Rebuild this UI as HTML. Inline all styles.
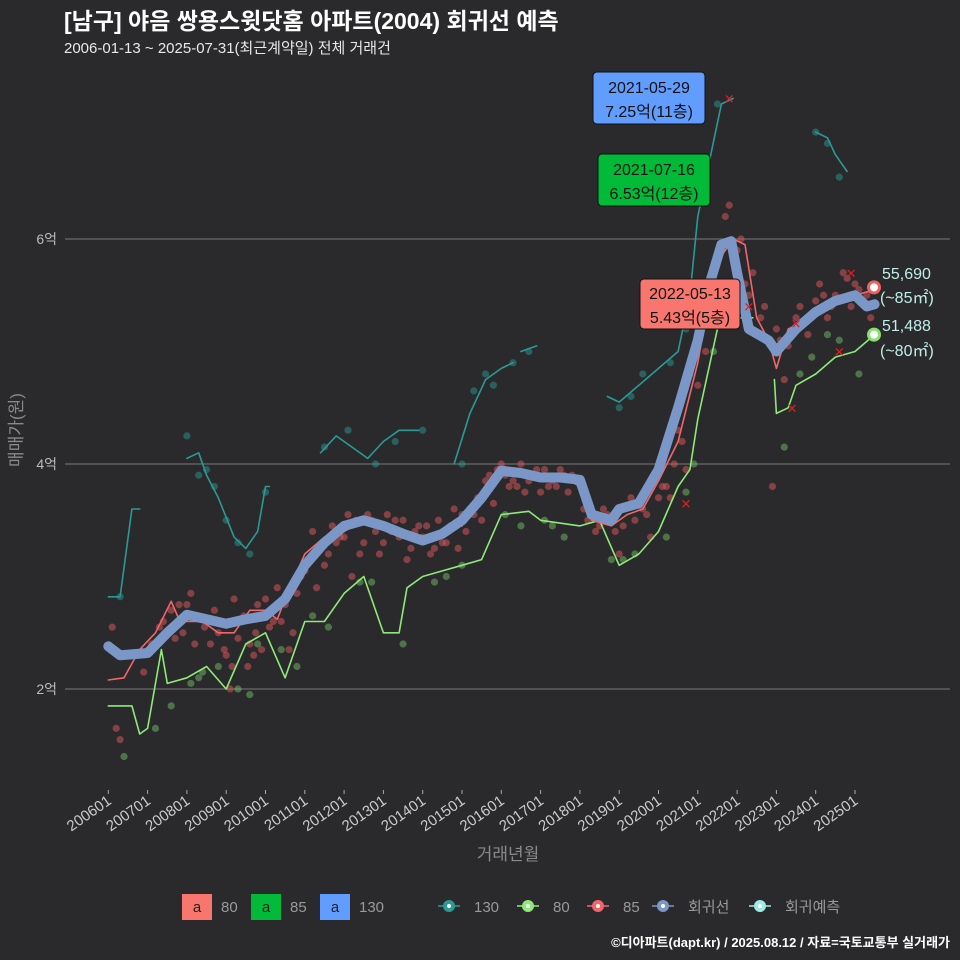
<!DOCTYPE html>
<html><head><meta charset="utf-8"><style>
body{margin:0;background:#2a2a2c;}
svg{display:block;font-family:"Liberation Sans","Noto Sans CJK KR",sans-serif;}
</style></head><body>
<svg id="c" width="960" height="960" viewBox="0 0 960 960">
<rect x="0" y="0" width="960" height="960" fill="#2a2a2c"/>
<text x="64" y="29" font-size="23" font-weight="bold" fill="#ffffff">[남구] 야음 쌍용스윗닷홈 아파트(2004) 회귀선 예측</text>
<text x="64" y="53" font-size="15" fill="#e8e8e8">2006-01-13 ~ 2025-07-31(최근계약일) 전체 거래건</text>
<g id="grid"></g>
<g id="marks"></g>
<g id="axes"></g>
<text x="22" y="430" font-size="17" fill="#8a8a8a" transform="rotate(-90 22 430)" text-anchor="middle">매매가(원)</text>
<text x="508" y="860" font-size="17" fill="#8a8a8a" text-anchor="middle">거래년월</text>
<g>
<rect x="182" y="894" width="30" height="26" fill="#f8766d"/><text x="197" y="912" font-size="15" text-anchor="middle" fill="#222">a</text><text x="221" y="912" font-size="15" fill="#999">80</text>
<rect x="251" y="894" width="30" height="26" fill="#00ba38"/><text x="266" y="912" font-size="15" text-anchor="middle" fill="#222">a</text><text x="290" y="912" font-size="15" fill="#999">85</text>
<rect x="320" y="894" width="30" height="26" fill="#619cff"/><text x="335" y="912" font-size="15" text-anchor="middle" fill="#222">a</text><text x="359" y="912" font-size="15" fill="#999">130</text>
<g id="leg2"></g>
</g>
<text x="950" y="947" font-size="13" font-weight="bold" fill="#ffffff" text-anchor="end">©디아파트(dapt.kr) / 2025.08.12 / 자료=국토교통부 실거래가</text>
<g><rect x="593" y="72" width="112" height="52" rx="4" fill="#619cff" stroke="#111"/><text x="649" y="93" font-size="16" text-anchor="middle" fill="#111">2021-05-29</text><text x="649" y="117" font-size="16" text-anchor="middle" fill="#111">7.25억(11층)</text></g>
<g><rect x="598" y="154" width="112" height="52" rx="4" fill="#00ba38" stroke="#111"/><text x="654" y="175" font-size="16" text-anchor="middle" fill="#111">2021-07-16</text><text x="654" y="199" font-size="16" text-anchor="middle" fill="#111">6.53억(12층)</text></g>
<g><rect x="640" y="279" width="100" height="50" rx="4" fill="#f8766d" stroke="#111"/><text x="690" y="299" font-size="16" text-anchor="middle" fill="#111">2022-05-13</text><text x="690" y="323" font-size="16" text-anchor="middle" fill="#111">5.43억(5층)</text></g>
<g>
<text x="882" y="279" font-size="16" fill="#bfeee8">55,690</text><text x="880" y="303" font-size="16" fill="#bfeee8">(~85㎡)</text>
<text x="882" y="331" font-size="16" fill="#bfeee8">51,488</text><text x="880" y="356" font-size="16" fill="#bfeee8">(~80㎡)</text>
</g>
</svg>
<script>
const yTicks=[2,4,6];
const xTickLabels=['200601','200701','200801','200901','201001','201101','201201','201301','201401','201501','201601','201701','201801','201901','202001','202101','202201','202301','202401','202501'];
const regT=[2006.0,2006.3,2007.0,2007.5,2008.0,2008.5,2009.0,2009.5,2010.0,2010.5,2011.0,2011.5,2012.0,2012.5,2013.0,2013.5,2014.0,2014.5,2015.0,2015.5,2016.0,2016.5,2017.0,2017.5,2018.0,2018.3,2018.8,2019.0,2019.5,2020.0,2020.5,2021.0,2021.3,2021.6,2021.85,2022.0,2022.3,2022.8,2023.0,2023.5,2024.0,2024.5,2025.0,2025.3,2025.5];
const regV=[2.38,2.3,2.32,2.5,2.66,2.62,2.58,2.62,2.65,2.8,3.1,3.3,3.45,3.5,3.45,3.38,3.32,3.38,3.5,3.7,3.94,3.92,3.88,3.88,3.86,3.55,3.5,3.6,3.65,3.95,4.5,5.1,5.6,5.95,5.98,5.7,5.2,5.1,5.0,5.2,5.35,5.45,5.5,5.4,5.42];
const s85T=[2006.0,2006.4,2006.8,2007.2,2007.6,2007.8,2008.0,2008.4,2008.8,2009.2,2009.6,2010.0,2010.3,2010.5,2011.0,2011.5,2012.0,2012.5,2013.0,2013.5,2014.0,2014.5,2015.0,2015.5,2016.0,2016.5,2017.0,2017.5,2018.0,2018.3,2018.8,2019.2,2019.6,2020.0,2020.5,2021.0,2021.3,2021.6,2021.9,2022.2,2022.5,2022.8,2023.0,2023.3,2023.6,2024.0,2024.5,2025.0,2025.5];
const s85V=[2.08,2.1,2.35,2.5,2.78,2.62,2.6,2.6,2.5,2.5,2.7,2.7,2.62,2.8,3.2,3.35,3.4,3.5,3.45,3.35,3.3,3.4,3.45,3.7,3.98,3.95,3.85,3.9,3.8,3.5,3.45,3.55,3.6,3.85,4.2,4.9,5.5,5.85,6.0,5.95,5.3,5.1,4.85,5.2,5.25,5.35,5.45,5.5,5.55];
const s80T=[2006.0,2006.6,2006.8,2007.0,2007.35,2007.5,2008.0,2008.5,2009.0,2009.5,2010.0,2010.5,2011.0,2011.5,2012.0,2012.5,2013.0,2013.4,2013.6,2014.0,2014.5,2015.0,2015.5,2016.0,2016.7,2017.0,2018.0,2018.5,2019.0,2019.5,2020.0,2020.5,2020.8,2021.0,2021.5,2022.0,2022.4];
const s80V=[1.85,1.85,1.6,1.65,2.35,2.05,2.1,2.2,2.0,2.4,2.5,2.1,2.6,2.6,2.85,3.0,2.5,2.5,2.9,3.0,3.05,3.1,3.15,3.55,3.58,3.5,3.45,3.5,3.1,3.2,3.4,3.8,3.95,4.4,5.2,5.3,5.3];
const s80bT=[2022.95,2023.0,2023.3,2023.5,2024.0,2024.5,2025.0,2025.5];
const s80bV=[4.75,4.45,4.5,4.7,4.8,4.95,5.0,5.15];
const s130aT=[2006.0,2006.3,2006.6,2006.8];const s130aV=[2.82,2.82,3.6,3.6];
const s130bT=[2008.0,2008.3,2008.5,2008.8,2009.2,2009.5,2009.8,2010.0,2010.1];const s130bV=[4.05,4.1,3.9,3.7,3.35,3.25,3.4,3.8,3.8];
const s130cT=[2011.4,2011.8,2012.2,2012.6,2013.0,2013.4,2013.9];const s130cV=[4.1,4.25,4.15,4.05,4.2,4.3,4.3];
const s130dT=[2014.8,2015.2,2015.6,2016.0,2016.3];const s130dV=[4.0,4.45,4.75,4.85,4.9];
const s130eT=[2016.5,2016.9];const s130eV=[5.0,5.05];
const s130fT=[2018.7,2019.0,2019.5,2020.0,2020.5,2020.8,2021.0,2021.3,2021.6,2021.9];const s130fV=[4.6,4.55,4.7,4.85,5.0,5.5,6.2,6.7,7.2,7.25];
const s130gT=[2024.0,2024.3,2024.5,2024.8];const s130gV=[6.95,6.9,6.75,6.6];
const ptsRedT=[2006.1,2006.3,2006.5,2006.9,2007.1,2007.3,2007.6,2007.9,2008.1,2008.3,2008.6,2008.8,2009.0,2009.2,2009.4,2009.6,2009.8,2010.1,2010.3,2010.6,2010.9,2011.2,2011.5,2011.8,2012.1,2012.4,2012.7,2013.0,2013.3,2013.6,2013.9,2014.2,2014.5,2014.8,2015.1,2015.4,2015.7,2016.0,2016.3,2016.6,2016.9,2017.2,2017.5,2017.8,2018.1,2018.4,2018.7,2019.0,2019.3,2019.6,2019.9,2020.2,2020.5,2020.8,2021.1,2021.4,2021.7,2022.0,2022.3,2022.6,2022.9,2023.2,2023.5,2023.8,2024.1,2024.4,2024.7,2025.0,2025.3,2008.2,2009.1,2009.7,2010.4,2012.2,2014.0,2015.3,2016.2,2018.9,2020.3,2021.2,2022.4,2023.1,2024.2,2006.2,2007.8,
2007.4,2007.7,2008.0,2008.45,2008.7,2008.95,2009.05,2009.15,2009.3,2009.45,2009.55,2009.75,2009.9,2010.0,2010.2,2010.5,2010.7,2010.8,2011.0,2011.3,2011.4,2011.6,2011.7,2011.9,2012.0,2012.3,2012.5,2012.6,2012.8,2012.9,2013.1,2013.2,2013.4,2013.5,2013.7,2013.8,2014.1,2014.3,2014.4,2014.6,2014.7,2014.9,2015.0,2015.2,2015.5,2015.6,2015.8,2015.9,2016.1,2016.4,2016.5,2016.7,2016.8,2017.0,2017.1,2017.3,2017.4,2017.6,2017.7,2017.9,2018.2,2018.5,2018.6,2019.1,2019.4,2019.7,2019.8,2020.0,2020.1,2020.4,2020.6,2020.7,2021.0,2021.5,2021.8,2022.1,2022.2,2022.7,2023.0,2023.3,2023.6,2023.7,2024.0,2024.3,2024.5,2024.8,2024.9,2025.1,2025.4];
const ptsRedV=[2.55,1.55,2.3,2.15,2.4,2.55,2.7,2.5,2.85,2.65,2.4,2.5,2.3,2.8,2.6,2.4,2.75,2.55,2.9,2.35,3.0,3.4,3.1,3.3,3.55,3.2,3.5,3.3,3.5,3.15,3.45,3.2,3.3,3.6,3.4,3.7,3.9,4.0,3.85,3.75,3.95,3.8,3.95,3.9,3.6,3.4,3.55,3.2,3.7,3.6,3.9,3.8,4.3,4.8,5.3,5.5,6.2,5.9,5.5,5.3,3.8,4.75,5.3,5.15,5.6,5.4,5.7,5.6,5.5,2.4,2.0,2.3,2.6,3.0,3.35,3.55,3.8,3.4,3.7,5.0,5.7,5.1,5.5,1.65,2.75,
2.6,2.45,2.75,2.55,2.7,2.35,2.6,2.2,2.45,2.65,2.2,2.5,2.35,2.8,2.6,2.75,2.5,2.85,3.05,2.9,3.25,3.2,3.45,3.35,3.35,3.5,3.3,3.55,3.4,3.2,3.55,3.4,3.35,3.5,3.25,3.4,3.45,3.25,3.5,3.3,3.45,3.25,3.55,3.6,3.5,3.85,3.65,3.95,3.9,3.8,4.0,3.85,3.9,3.75,3.95,3.85,3.8,3.9,3.75,3.85,3.5,3.45,3.6,3.45,3.5,3.55,3.35,3.7,3.8,4.0,4.2,3.95,4.7,5.8,6.3,6.0,5.6,5.4,5.2,5.05,5.4,5.25,5.45,5.3,5.5,5.65,5.4,5.55,5.3];
const ptsGreenT=[2006.4,2007.2,2007.6,2008.3,2008.8,2009.3,2009.6,2010.4,2010.8,2011.6,2012.4,2013.5,2014.3,2015.0,2016.5,2017.1,2017.6,2018.8,2019.4,2020.2,2020.7,2021.4,2022.0,2023.2,2023.9,2024.6,2025.1,2008.1,2008.4,2009.8,2011.2,2012.7,2014.6,2016.1,2017.3,2019.1,2020.9,2023.6,2024.3];
const ptsGreenV=[1.4,1.65,1.85,2.1,2.2,2.0,1.95,2.35,2.2,2.55,2.95,2.4,2.95,3.1,3.45,3.5,3.35,3.15,3.2,3.35,3.75,5.0,5.25,4.15,4.95,5.1,4.8,2.05,2.15,2.4,2.65,2.95,3.0,3.55,3.45,3.15,4.0,4.8,5.15];
const ptsTealT=[2006.3,2008.0,2008.3,2008.7,2009.3,2009.6,2010.0,2011.5,2012.1,2012.8,2013.3,2014.0,2015.0,2015.3,2015.6,2016.3,2016.7,2019.0,2019.6,2020.3,2020.7,2021.1,2021.5,2024.0,2024.3,2024.6,2008.5,2009.0,2015.8,2019.3];
const ptsTealV=[2.82,4.25,3.9,3.8,3.3,3.2,3.75,4.15,4.3,4.0,4.2,4.3,4.0,4.65,4.8,4.9,5.0,4.5,4.8,4.9,5.2,6.5,7.2,6.95,6.85,6.55,3.95,3.5,4.7,4.6];
const crossT=[2021.8,2022.3,2023.4,2023.5,2024.6,2024.9,2020.7];
const crossV=[7.25,5.4,4.5,5.25,5.0,5.7,3.65];

const NS='http://www.w3.org/2000/svg';
const X=t=>108.3+(t-2006)*39.3;
const Y=v=>689-(v-2)*112.5;
function el(tag,attrs,parent){const e=document.createElementNS(NS,tag);for(const k in attrs)e.setAttribute(k,attrs[k]);parent.appendChild(e);return e;}
const grid=document.getElementById('grid'),marks=document.getElementById('marks'),axes=document.getElementById('axes');
yTicks.forEach(v=>{
  const l=el('line',{x1:65,x2:950,y1:Y(v),y2:Y(v),stroke:'#6a6a6a','stroke-width':1.2},grid);
  
  
  const t=el('text',{x:57,y:Y(v)+5,'font-size':14,fill:'#bbbbbb','text-anchor':'end'},axes);
  t.textContent=v+'억';
  
  
});
xTickLabels.forEach(s=>{
  const t0=+s.slice(0,4)+(+s.slice(4)-1)/12;const x=X(t0);
  el('line',{x1:x,x2:x,y1:790,y2:794,stroke:'#aaa'},axes);
  const t=el('text',{x:x+4,y:803,'font-size':15,fill:'#cccccc','text-anchor':'end',transform:`rotate(-35 ${x+4} 803)`},axes);
  t.textContent=s;
  
  
});
function pts(T,V,col,op,name){T.forEach((t,i)=>{const c=el('circle',{cx:X(t),cy:Y(V[i]),r:3.6,fill:col,'fill-opacity':op},marks);
  
  });}
function line(T,V,col,w,name){const d=T.map((t,i)=>(i?'L':'M')+X(t).toFixed(1)+','+Y(V[i]).toFixed(1)).join('');
  const p=el('path',{d:d,fill:'none',stroke:col,'stroke-width':w,'stroke-linejoin':'round','stroke-linecap':'round'},marks);
  
  }
pts(ptsTealT,ptsTealV,'#2aa198',0.45,'point-130');
pts(ptsGreenT,ptsGreenV,'#7ccd6c',0.45,'point-80');
pts(ptsRedT,ptsRedV,'#e0585a',0.5,'point-85');
[[s130aT,s130aV],[s130bT,s130bV],[s130cT,s130cV],[s130dT,s130dV],[s130eT,s130eV],[s130fT,s130fV],[s130gT,s130gV]].forEach(a=>line(a[0],a[1],'#2a9a96',1.6,'line-130'));
line(s80T,s80V,'#8eea78',1.6,'line-80');
line(s80bT,s80bV,'#8eea78',1.6,'line-80');
line(s85T,s85V,'#f2666a',1.6,'line-85');
line(regT,regV,'#7b97c8',10,'regression-line');
crossT.forEach((t,i)=>{const x=X(t),y=Y(crossV[i]);const c=el('text',{x:x,y:y+5,'font-size':13,fill:'#e02020','text-anchor':'middle'},marks);c.textContent='✕';
  
  });
const f1=el('circle',{cx:874,cy:Y(5.57),r:5.5,fill:'#fff',stroke:'#f06060','stroke-width':3},marks);


const f2=el('circle',{cx:874,cy:Y(5.15),r:5.5,fill:'#fff',stroke:'#88e070','stroke-width':3},marks);


const leg=document.getElementById('leg2');
[['#2a9a96','130',438],['#8eea78','80',517],['#f2666a','85',587],['#7b97c8','회귀선',652],['#9eeae4','회귀예측',749]].forEach(a=>{
  const g=el('g',{},leg);
  
  
  el('line',{x1:a[2],x2:a[2]+22,y1:906,y2:906,stroke:a[0],'stroke-width':1.5},g);
  el('circle',{cx:a[2]+11,cy:906,r:6,fill:a[0]},g);
  el('circle',{cx:a[2]+11,cy:906,r:2,fill:'#fff'},g);
  const t=el('text',{x:a[2]+36,y:912,'font-size':15,fill:'#999'},g);t.textContent=a[1];
});
</script>
</body></html>
